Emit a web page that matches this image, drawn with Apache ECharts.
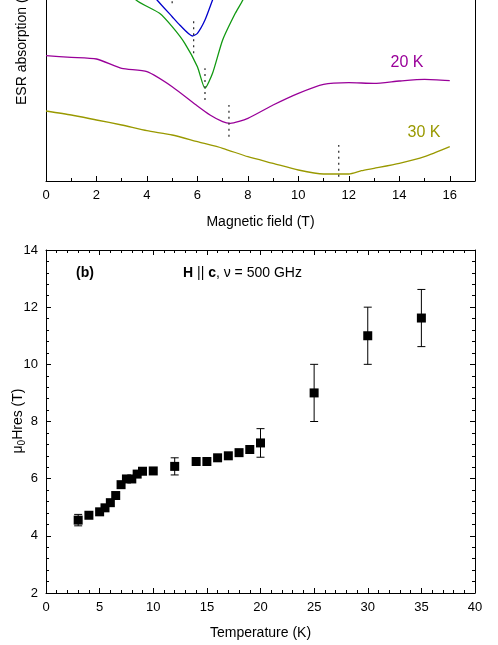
<!DOCTYPE html>
<html>
<head>
<meta charset="UTF-8">
<script src="https://cdn.jsdelivr.net/npm/echarts@6/dist/echarts.min.js"></script>
</head>
<body style="margin:0">
<div id="main" style="width:498px;height:645px;"></div>
<script>
// top panel (a): ESR spectra, arb. units
var purpleX = [0, 1, 2, 3, 4, 5, 6, 6.5, 7, 7.3, 8, 9, 10, 11, 12, 13, 14, 15, 16];
var purpleY = [125.3, 123.7, 122, 112.7, 109.3, 94.3, 75, 66, 59.3, 57.7, 62.7, 76, 87.7, 96.7, 98.3, 97.7, 100, 101.7, 100.3];
var oliveX = [0, 1, 2, 3, 4, 5, 6, 7, 8, 9, 10, 11, 12, 12.5, 13, 14, 15, 16];
var oliveY = [70, 66, 61, 56, 50.3, 46, 39.3, 32.7, 24.3, 17.7, 11, 7, 7, 10.3, 12.7, 17.7, 24.3, 34.3];
var greenX = [3.0, 3.57, 4.5, 5, 5.5, 6, 6.3, 6.6, 7, 7.5, 7.8, 8.1];
var greenY = [201, 181, 167.7, 154.3, 137.7, 114.3, 92.7, 107.7, 141, 167.7, 181, 201];
var blueX = [4.0, 4.4, 5, 5.3, 5.8, 6.0, 6.3, 6.6, 6.8];
var blueY = [194, 181, 164.3, 156, 145, 147.7, 161, 181, 194];
var markX = [5.0, 5.85, 6.3, 7.25, 11.6];
var markLo = [177.7, 127.7, 81, 44.3, 4.3];
var markHi = [200, 160.3, 112.7, 76, 36];

// bottom panel (b): resonance field vs temperature
var temps = [3, 4, 5, 5.5, 6, 6.5, 7, 7.5, 8, 8.5, 9, 10, 12, 14, 15, 16, 17, 18, 19, 20, 25, 30, 35];
var hres = [4.55, 4.72, 4.84, 4.98, 5.16, 5.41, 5.79, 5.99, 5.99, 6.16, 6.26, 6.27, 6.43, 6.6, 6.6, 6.73, 6.8, 6.91, 7.02, 7.25, 9, 11, 11.62];
var errs = [0.2, 0, 0, 0, 0, 0, 0, 0, 0, 0, 0, 0, 0.3, 0, 0, 0, 0, 0, 0, 0.5, 1, 1, 1];

function zip(a, b) { return a.map(function (v, i) { return [v, b[i]]; }); }
var font = 'Liberation Sans, Arial, sans-serif';
var axisBase = {
    axisLine: {onZero: false, lineStyle: {color: '#000', width: 1}},
    axisTick: {inside: true, length: 5, lineStyle: {color: '#000'}},
    minorTick: {show: true, length: 3, lineStyle: {color: '#000'}},
    splitLine: {show: false},
    axisLabel: {color: '#000', fontSize: 13, fontFamily: font}
};
function ax(extra) { return Object.assign({}, JSON.parse(JSON.stringify(axisBase)), extra); }

var series = [];
function curve(x, y, color) {
    series.push({type: 'line', xAxisIndex: 0, yAxisIndex: 0, data: zip(x, y), smooth: 0.2, symbol: 'none',
        lineStyle: {color: color, width: 1.3}, z: 3});
}
curve(purpleX, purpleY, '#990099');
curve(oliveX, oliveY, '#999900');
curve(greenX, greenY, '#119911');
curve(blueX, blueY, '#0000cc');
markX.forEach(function (x, i) {
    series.push({type: 'line', xAxisIndex: 0, yAxisIndex: 0, data: [[x, markLo[i]], [x, markHi[i]]], symbol: 'none',
        lineStyle: {color: '#333', width: 1.3, type: [2, 4]}});
});
series.push({type: 'custom', xAxisIndex: 1, yAxisIndex: 1,
    data: temps.map(function (t, i) { return [t, hres[i] - errs[i], hres[i] + errs[i]]; }).filter(function (d) { return d[2] > d[1]; }),
    renderItem: function (params, api) {
        var lo = api.coord([api.value(0), api.value(1)]);
        var hi = api.coord([api.value(0), api.value(2)]);
        var style = {stroke: '#000', lineWidth: 1};
        return {type: 'group', children: [
            {type: 'line', shape: {x1: lo[0], y1: lo[1], x2: hi[0], y2: hi[1]}, style: style},
            {type: 'line', shape: {x1: lo[0] - 4, y1: lo[1], x2: lo[0] + 4, y2: lo[1]}, style: style},
            {type: 'line', shape: {x1: hi[0] - 4, y1: hi[1], x2: hi[0] + 4, y2: hi[1]}, style: style}
        ]};
    }});
series.push({type: 'scatter', xAxisIndex: 1, yAxisIndex: 1, data: zip(temps, hres), symbol: 'rect', symbolSize: 9,
    itemStyle: {color: '#000', opacity: 1}, z: 5});

var chart = echarts.init(document.getElementById('main'));
chart.setOption({
    animation: false,
    backgroundColor: '#fff',
    grid: [
        {left: 46, top: 0, width: 429, height: 181, outerBoundsMode: 'none', containLabel: false},
        {left: 46, top: 250, width: 429, height: 343, outerBoundsMode: 'none', containLabel: false}
    ],
    xAxis: [
        ax({gridIndex: 0, type: 'value', min: 0, max: 17, interval: 2, minorTick: {show: true, splitNumber: 2, length: 3, lineStyle: {color: '#000'}},
            axisLabel: {color: '#000', fontSize: 13, fontFamily: font, formatter: function (v) { return v > 16 ? '' : v; }},
            name: 'Magnetic field (T)', nameLocation: 'middle', nameGap: 34, nameTextStyle: {fontSize: 14, fontFamily: font, color: '#000'}}),
        ax({gridIndex: 1, type: 'value', min: 0, max: 40, interval: 5,
            name: 'Temperature (K)', nameLocation: 'middle', nameGap: 33, nameTextStyle: {fontSize: 14, fontFamily: font, color: '#000'}}),
        ax({gridIndex: 1, type: 'value', position: 'top', min: 0, max: 40, interval: 5, axisLabel: {show: false}})
    ],
    yAxis: [
        ax({gridIndex: 0, type: 'value', min: 0, max: 181, axisTick: {show: false}, minorTick: {show: false}, axisLabel: {show: false}}),
        ax({gridIndex: 1, type: 'value', min: 2, max: 14, interval: 2}),
        ax({gridIndex: 1, type: 'value', position: 'right', min: 2, max: 14, interval: 2, axisLabel: {show: false}}),
        ax({gridIndex: 0, type: 'value', position: 'right', min: 0, max: 181, axisTick: {show: false}, minorTick: {show: false}, axisLabel: {show: false}})
    ],
    graphic: [
        {type: 'text', x: 22, y: 105, rotation: Math.PI / 2,
            style: {text: 'ESR absorption (arb. units)', fontSize: 14, fontFamily: font, fill: '#000', textAlign: 'left', textVerticalAlign: 'middle'}},
        {type: 'text', x: 18, y: 421, rotation: Math.PI / 2,
            style: {text: '{a|μ}{s|0}{a|Hres (T)}', fontSize: 14, fontFamily: font, fill: '#000', textAlign: 'center', textVerticalAlign: 'middle',
                rich: {a: {fontSize: 14, fontFamily: font}, s: {fontSize: 10, fontFamily: font, padding: [8, 0, 0, 0]}}}},
        {type: 'text', x: 407, y: 63, style: {text: '20 K', fontSize: 16, fontFamily: font, fill: '#990099', textAlign: 'center', textVerticalAlign: 'middle'}},
        {type: 'text', x: 424, y: 133, style: {text: '30 K', fontSize: 16, fontFamily: font, fill: '#999900', textAlign: 'center', textVerticalAlign: 'middle'}},
        {type: 'text', x: 76, y: 273, style: {text: '(b)', fontSize: 14, fontWeight: 'bold', fontFamily: font, fill: '#000', textVerticalAlign: 'middle'}},
        {type: 'text', x: 183, y: 273, style: {text: '{b|H} {n||| }{b|c}{n|, ν = 500 GHz}', fontSize: 14, fontFamily: font, fill: '#000', textVerticalAlign: 'middle',
            rich: {b: {fontSize: 14, fontWeight: 'bold', fontFamily: font}, n: {fontSize: 14, fontFamily: font}}}}
    ],
    series: series
});
</script>
</body>
</html>
